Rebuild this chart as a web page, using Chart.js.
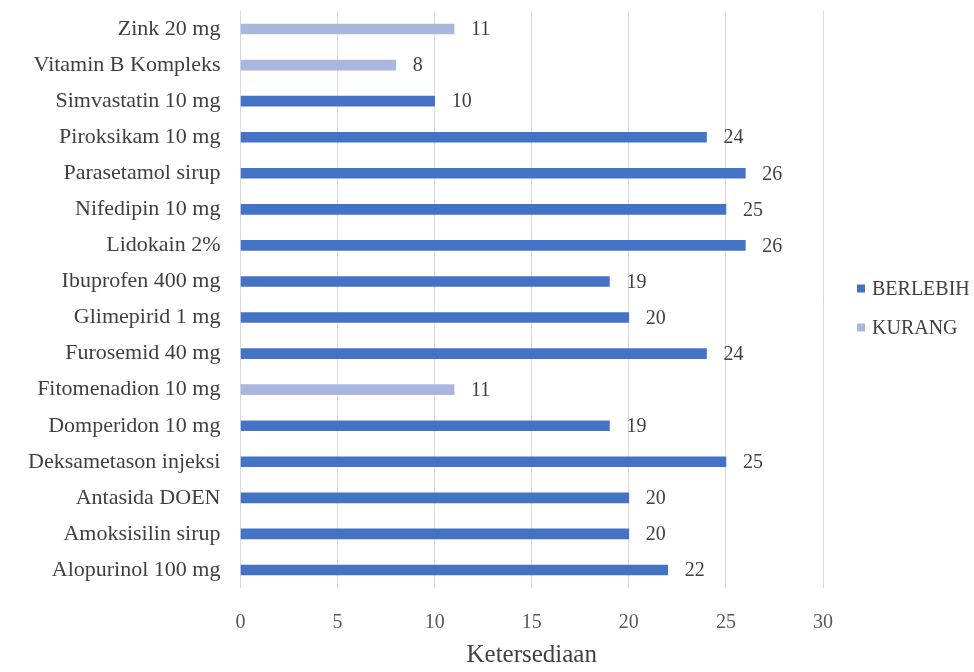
<!DOCTYPE html>
<html>
<head>
<meta charset="utf-8">
<script src="https://cdn.jsdelivr.net/npm/chart.js@4.4.0/dist/chart.umd.min.js"></script>
<style>
  html, body { margin: 0; padding: 0; background: #ffffff; }
  #wrap { width: 974px; height: 672px; position: relative; }
</style>
</head>
<body>
<div id="wrap"><canvas id="c"></canvas></div>
<script>
const categories = [
  "Zink 20 mg", "Vitamin B Kompleks", "Simvastatin 10 mg", "Piroksikam 10 mg",
  "Parasetamol sirup", "Nifedipin 10 mg", "Lidokain 2%", "Ibuprofen 400 mg",
  "Glimepirid 1 mg", "Furosemid 40 mg", "Fitomenadion 10 mg", "Domperidon 10 mg",
  "Deksametason injeksi", "Antasida DOEN", "Amoksisilin sirup", "Alopurinol 100 mg"
];
const berlebih = [null, null, 10, 24, 26, 25, 26, 19, 20, 24, null, 19, 25, 20, 20, 22];
const kurang   = [11, 8, null, null, null, null, null, null, null, null, 11, null, null, null, null, null];
const xTicks = [0, 5, 10, 15, 20, 25, 30];
const seriesNames = ["BERLEBIH", "KURANG"];
const axisTitle = "Ketersediaan";

const FONT = "'Liberation Serif', 'Times New Roman', serif";

const valueLabels = {
  id: 'valueLabels',
  afterDatasetsDraw(chart) {
    const ctx = chart.ctx;
    ctx.save();
    ctx.font = "20px " + FONT;
    ctx.fillStyle = "#404040";
    ctx.textBaseline = "middle";
    ctx.textAlign = "left";
    chart.data.datasets.forEach((ds, i) => {
      const meta = chart.getDatasetMeta(i);
      meta.data.forEach((el, j) => {
        const v = ds.data[j];
        if (v === null || v === undefined) return;
        ctx.fillText(String(v), el.x + 17, el.y + 1);
      });
    });
    ctx.restore();
  }
};

const sideLegend = {
  id: 'sideLegend',
  afterDraw(chart) {
    const ctx = chart.ctx;
    const area = chart.chartArea;
    const x0 = area.right + 34;
    const yc = (area.top + area.bottom) / 2;
    const ys = [yc - 11, yc + 28];
    ctx.save();
    ctx.font = "20px " + FONT;
    ctx.textBaseline = "middle";
    ctx.textAlign = "left";
    chart.data.datasets.forEach((ds, i) => {
      ctx.fillStyle = ds.backgroundColor;
      ctx.fillRect(x0, ys[i] - 4, 8, 8);
      ctx.fillStyle = "#404040";
      ctx.fillText(ds.label, x0 + 15, ys[i] + 1);
    });
    ctx.restore();
  }
};

new Chart(document.getElementById('c'), {
  type: 'bar',
  data: {
    labels: categories,
    datasets: [
      { label: seriesNames[0], data: berlebih, backgroundColor: '#4472C4', barThickness: 10 },
      { label: seriesNames[1], data: kurang, backgroundColor: '#A9B7DF', barThickness: 10 }
    ]
  },
  options: {
    indexAxis: 'y',
    responsive: true,
    maintainAspectRatio: false,
    animation: false,
    layout: { padding: { top: 0, right: 151, left: 28, bottom: 0 } },
    scales: {
      x: {
        stacked: true,
        min: 0, max: 30,
        afterBuildTicks(axis) { axis.ticks = xTicks.map(v => ({ value: v })); },
        grid: { color: '#d9d9d9', drawTicks: true, tickLength: 23, tickColor: 'rgba(0,0,0,0)', lineWidth: 1 },
        border: { display: false },
        ticks: { color: '#595959', font: { family: FONT, size: 20 }, padding: 0 },
        title: { display: true, text: axisTitle, color: '#404040', font: { family: FONT, size: 25 }, padding: { top: 5, bottom: 2 } }
      },
      y: {
        stacked: true,
        grid: { display: true, drawOnChartArea: false, drawTicks: true, tickLength: 20, tickColor: 'rgba(0,0,0,0)' },
        border: { display: false },
        ticks: { color: '#404040', font: { family: FONT, size: 22, lineHeight: 1.0 }, padding: 0, autoSkip: false }
      }
    },
    plugins: {
      legend: { display: false },
      tooltip: { enabled: false }
    }
  },
  plugins: [valueLabels, sideLegend]
});
</script>
</body>
</html>
